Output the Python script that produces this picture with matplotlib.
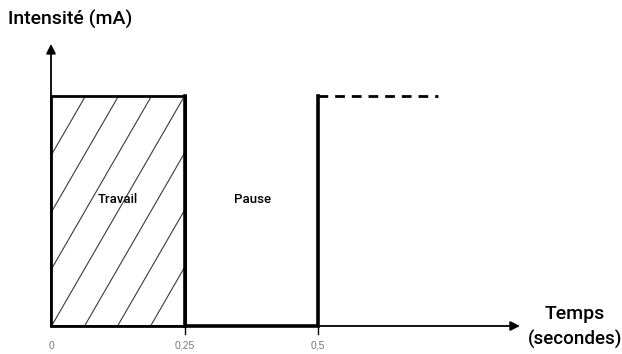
import numpy as np
import matplotlib.pyplot as plt
from matplotlib.patches import Rectangle

# signal: travail puis pause puis reprise
temps = [0, 0.25, 0.25, 0.5, 0.5]
intensite = [1, 1, 0, 0, 1]
t_travail = [0, 0.25]
t_suite = [0.5, 0.725]
ticks = [0, 0.25, 0.5]
tick_labels = ["0", "0,25", "0,5"]

plt.rcParams['font.family'] = ['Roboto', 'DejaVu Sans']

fig = plt.figure(figsize=(6.22, 3.54), dpi=100)
ax = fig.add_axes([0, 0, 1, 1])
ax.set_xlim(-0.0955, 1.069)
ax.set_ylim(-0.1217, 1.417)
ax.axis("off")

# axes avec fleches
ax.annotate("", xy=(0.878, 0), xytext=(0, 0),
            arrowprops=dict(arrowstyle="-|>", color="k", lw=1.3, mutation_scale=14, shrinkA=0, shrinkB=0))
ax.annotate("", xy=(0, 1.226), xytext=(0, 0),
            arrowprops=dict(arrowstyle="-|>", color="k", lw=1.3, mutation_scale=14, shrinkA=0, shrinkB=0))

# zone travail hachuree
rect = Rectangle((t_travail[0], 0), t_travail[1] - t_travail[0], intensite[0],
                 fill=False, ec="k", lw=2, zorder=3)
ax.add_patch(rect)
pente = 1.73 * 534 / 230  # pente des hachures en unites de donnees
pas = 0.0618
for x0 in np.arange(t_travail[1] + 3 * pas, t_travail[0] - pas, -pas):
    xs = np.array([x0 - 1 / pente, x0])
    ys = np.array([0, 1])
    ln, = ax.plot(xs, ys, color="#3a3a3a", lw=0.8, zorder=2)
    ln.set_clip_path(rect)

# signal
ax.plot(temps[1:], intensite[1:], color="k", lw=2.6, solid_joinstyle="miter", zorder=3)
ax.plot(t_suite, [1, 1], color="k", lw=2, ls=(0, (3.5, 2.5)), zorder=3)

# graduations
for t, lab in zip(ticks, tick_labels):
    if t > 0:
        ax.plot([t, t], [0, -0.035], color="k", lw=1)
    ax.text(t, -0.085, lab, ha="center", va="center", fontsize=7.5, color="#777777",
            family=["Liberation Sans", "DejaVu Sans"])

ax.text(0.125, 0.55, "Travail", ha="center", va="center", fontsize=9.5, fontweight="medium")
ax.text(0.377, 0.55, "Pause", ha="center", va="center", fontsize=9.5, fontweight="medium")

fig.text(8 / 622, 1 - 19 / 354, "Intensité (mA)", ha="left", va="center", fontsize=14, fontweight="medium")
fig.text(575 / 622, 1 - 314 / 354, "Temps", ha="center", va="center", fontsize=14, fontweight="medium")
fig.text(575 / 622, 1 - 339 / 354, "(secondes)", ha="center", va="center", fontsize=13.5, fontweight="medium")

plt.savefig("out.png", dpi=100)
